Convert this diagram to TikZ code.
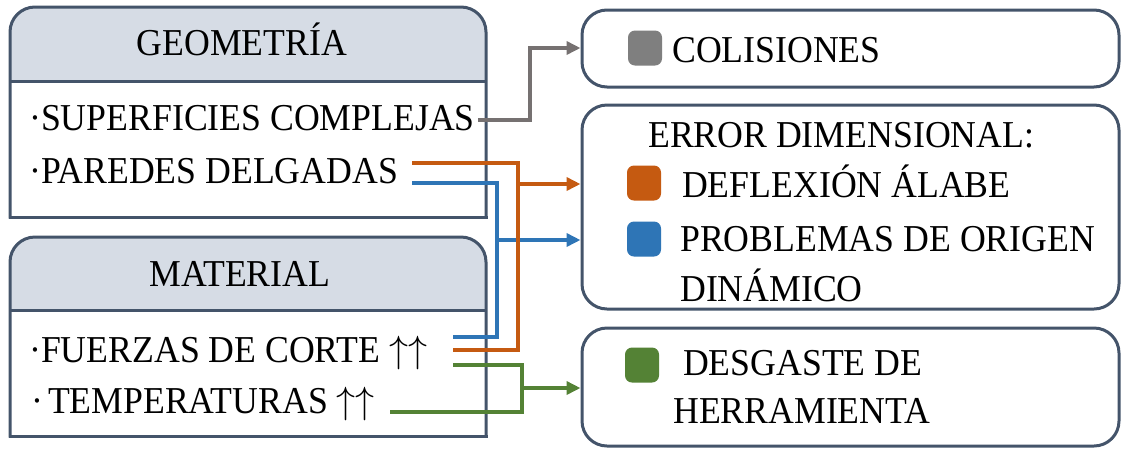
\RequirePackage{fix-cm}
\documentclass[tikz,border=0pt]{standalone}
\usepackage{fontspec}
\setmainfont{Liberation Serif}[FakeStretch=0.94]
\usetikzlibrary{arrows.meta}
\definecolor{bord}{HTML}{44546A}
\definecolor{hdr}{HTML}{D6DCE5}
\definecolor{cgray}{HTML}{767171}
\definecolor{sqgray}{HTML}{7F7F7F}
\definecolor{corange}{HTML}{C55A11}
\definecolor{cblue}{HTML}{2E75B6}
\definecolor{cgreen}{HTML}{548235}
\newcommand{\upup}{$\uparrow\uparrow$}
\begin{document}
\begin{tikzpicture}[x=1pt,y=-1pt,
 txt/.style={inner sep=0pt, font=\fontsize{38}{42}\selectfont},
 bx/.style={draw=bord, line width=3pt},
 rbox/.style={draw=bord, line width=3pt, rounded corners=25pt, inner sep=0pt, minimum width=537pt, fill=white},
 sq/.style={rounded corners=7pt, minimum width=34pt, minimum height=35pt, inner sep=0pt},
 conn/.style={line width=3.5pt},
 arr/.style={conn, -{Triangle[length=14pt,width=13pt]}},
]
\useasboundingbox (0,0) rectangle (1121,448);

% left box: GEOMETRIA
\fill[white] (10,7) rectangle (486,217);
\fill[hdr, rounded corners=25pt] (10,7) rectangle (486,81);
\fill[hdr] (10,40) rectangle (486,81);
\draw[bx, line cap=rect, rounded corners=25pt] (10,217) -- (10,7) -- (486,7) -- (486,217);
\draw[bx, line cap=rect] (10,217) -- (486,217);
\draw[bx] (10,81) -- (486,81);

% left box: MATERIAL
\fill[white] (10,237) rectangle (486,436);
\fill[hdr, rounded corners=25pt] (10,237) rectangle (486,310);
\fill[hdr] (10,270) rectangle (486,310);
\draw[bx, line cap=rect, rounded corners=25pt] (10,436) -- (10,237) -- (486,237) -- (486,436);
\draw[bx, line cap=rect] (10,436) -- (486,436);
\draw[bx] (10,310) -- (486,310);

\node[txt, anchor=base] (geo) at (242,55) {GEOMETRÍA};
\node[txt, anchor=base west] (sup) at (29,130) {·SUPERFICIES COMPLEJAS};
\node[txt, anchor=base west] (par) at (29,183) {·PAREDES DELGADAS};
\node[txt, anchor=base] (mat) at (240,286) {MATERIAL};
\node[txt, anchor=base west] (fue) at (29,362) {·FUERZAS DE CORTE \upup};
\node[txt, anchor=base west] (tem) at (31,413) {·\hspace{5pt}TEMPERATURAS \upup};

% right boxes
\node[rbox, minimum height=77pt] (col) at (850.5,48.5) {};
\node[rbox, minimum height=204pt] (err) at (850.5,207) {};
\node[rbox, minimum height=118pt] (des) at (850.5,387) {};

\node[sq, fill=sqgray] (sq1) at (645,48) {};
\node[sq, fill=corange] (sq2) at (644,183) {};
\node[sq, fill=cblue] (sq3) at (644,239) {};
\node[sq, fill=cgreen] (sq4) at (642,365) {};

\node[txt, anchor=base west] (t1) at (672,62) {COLISIONES};
\node[txt, anchor=base west] (t2) at (648,147) {ERROR DIMENSIONAL:};
\node[txt, anchor=base west] (t3) at (682,197) {DEFLEXIÓN ÁLABE};
\node[txt, anchor=base west] (t4) at (680,251) {PROBLEMAS DE ORIGEN};
\node[txt, anchor=base west] (t5) at (680,301) {DINÁMICO};
\node[txt, anchor=base west] (t6) at (683,375) {DESGASTE DE};
\node[txt, anchor=base west] (t7) at (673,423) {HERRAMIENTA};

% connector points
\coordinate (gs) at (478,120);
\coordinate (gj) at (530,48);
\coordinate (os) at (412,163);
\coordinate (oj) at (518,184);
\coordinate (of) at (453,350);
\coordinate (bs) at (412,183);
\coordinate (bj) at (497,240);
\coordinate (bf) at (453,337);
\coordinate (ns) at (453,365);
\coordinate (nj) at (522,388);
\coordinate (nf) at (390,412);

% connectors
\draw[conn, cblue] (bs) -| (bj) |- (bf);
\draw[arr, cblue] (bj) -- (err.west |- bj);
\draw[conn, corange] (os) -| (oj) |- (of);
\draw[arr, corange] (oj) -- (err.west |- oj);
\draw[conn, cgreen] (ns) -| (nj) |- (nf);
\draw[arr, cgreen] (nj) -- (des.west |- nj);
\draw[arr, cgray] (gs) -| (gj) -- (col.west |- gj);
\end{tikzpicture}
\end{document}
